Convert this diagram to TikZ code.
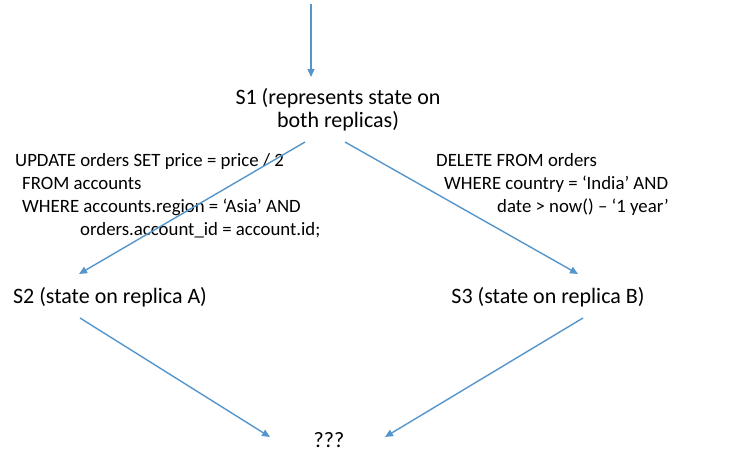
\documentclass[tikz,border=0pt]{standalone}
\usepackage{fontspec}
\setmainfont{Carlito}
\usetikzlibrary{arrows.meta,calc}
\definecolor{arrblue}{RGB}{84,150,204}
\tikzset{
  arr/.style={draw=arrblue, line width=1.4pt, -{Triangle[length=8pt,width=7pt]}},
  lbl/.style={inner sep=0pt, font=\fontsize{22}{23}\selectfont},
  sql/.style={inner sep=0pt, anchor=base west, font=\fontsize{18.8}{22}\selectfont}
}
\begin{document}
\begin{tikzpicture}[x=1pt,y=-1pt]
\useasboundingbox (0,0) rectangle (740,463);
% state labels
\node[lbl, align=center] (s1) at (338,110) {S1 (represents state on\\both replicas)};
\node[lbl] (s2) at (110,297) {S2 (state on replica A)};
\node[lbl] (s3) at (548,297) {S3 (state on replica B)};
\node[lbl] (q) at (329,440) {???};
% SQL text
\node[sql] (u1) at (15,166) {UPDATE orders SET price = price / 2};
\node[sql] (u2) at (22,189) {FROM accounts};
\node[sql] (u3) at (22,212) {WHERE accounts.region = ‘Asia’ AND};
\node[sql] (u4) at (80,235) {orders.account\_id = account.id;};
\node[sql] (d1) at (436,166) {DELETE FROM orders};
\node[sql] (d2) at (444,189) {WHERE country = ‘India’ AND};
\node[sql] (d3) at (497,212) {date > now() – ‘1 year’};
% connectors
\coordinate (top) at (311,4);
\draw[arr] (top) -- ($(s1.center)+(-27,-33)$);
\draw[arr] ($(s1.center)+(-33,32)$) -- ($(s2.center)+(-31,-23)$);
\draw[arr] ($(s1.center)+(7,32)$) -- ($(s3.center)+(30,-23)$);
\draw[arr] ($(s2.center)+(-30,21)$) -- ($(q.center)+(-59,-3)$);
\draw[arr] ($(s3.center)+(35,21)$) -- ($(q.center)+(56,-3)$);
\end{tikzpicture}
\end{document}
